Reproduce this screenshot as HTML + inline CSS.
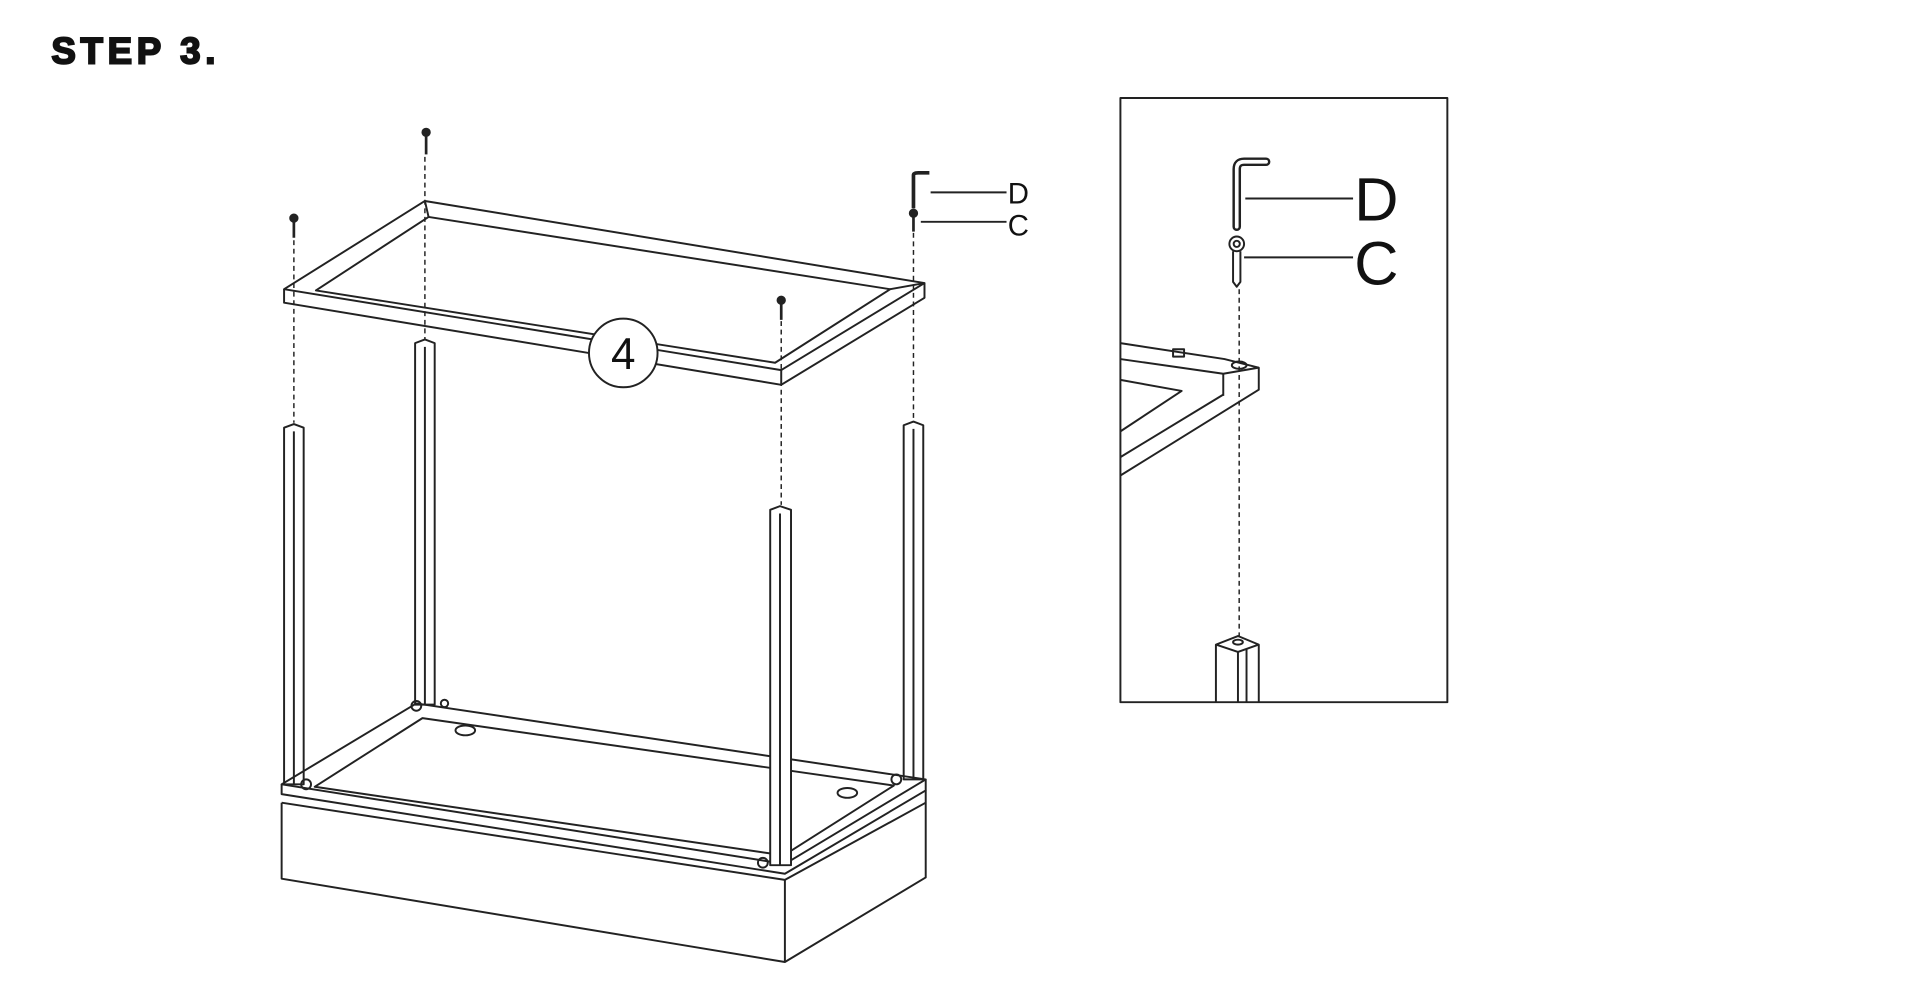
<!DOCTYPE html>
<html><head><style>
html,body{margin:0;padding:0;background:#fff;width:1920px;height:1000px;overflow:hidden}
svg{display:block}
</style></head><body>
<svg width="1920" height="1000" viewBox="0 0 1568 816" preserveAspectRatio="none" xmlns="http://www.w3.org/2000/svg">
<g fill="none" stroke="#222" stroke-width="1.6" stroke-linejoin="round">
<polygon points="232,236 347,164 755,231 638,302" fill="#fff"/>
<polyline points="232,236 232,247 638,314 755,243 755,231"/>
<line x1="638" y1="302" x2="638" y2="314"/>
<polygon points="258,237 350,177 727,236 633,296"/>
<line x1="347" y1="164" x2="350" y2="177"/>
<line x1="755" y1="231" x2="727" y2="236"/>
<polygon points="232,349 240,346 248,349 248,640 232,640" fill="#fff"/><line x1="240" y1="352" x2="240" y2="640"/>
<polygon points="339,280 347,277 355,280 355,575 339,575" fill="#fff"/><line x1="347" y1="283" x2="347" y2="575"/>
<polygon points="738,347 746,344 754,347 754,636 738,636" fill="#fff"/><line x1="746" y1="350" x2="746" y2="636"/>
<polyline points="230,655 230,717 641,785 756,716 756,645"/>
<line x1="641" y1="785" x2="641" y2="718"/>
<polyline points="230,655 641,718 756,655"/>
<polygon points="230,640 340,574 756,636 641,705"/>
<polyline points="230,640 230,648 641,713 756,645 756,636"/>
<polygon points="257,642 345,586 730,641 640,698"/>
<ellipse cx="380" cy="596" rx="8" ry="4"/><ellipse cx="692" cy="647" rx="8" ry="4"/>
<circle cx="250" cy="640" r="4"/><circle cx="340" cy="576" r="4"/><circle cx="363" cy="574" r="3"/><circle cx="732" cy="636" r="4"/><circle cx="623" cy="704" r="4"/>
<polygon points="629,416 637,413 646,416 646,706 629,706" fill="#fff"/><line x1="637" y1="419" x2="637" y2="706"/>
<g stroke-dasharray="4,3" stroke-width="1.2">
<line x1="240" y1="196" x2="240" y2="345"/><line x1="347" y1="128" x2="347" y2="277"/>
<line x1="638" y1="262" x2="638" y2="412"/><line x1="746" y1="190" x2="746" y2="343"/>
<line x1="1012" y1="236" x2="1012" y2="520"/>
</g>
<g stroke-width="2.2"><line x1="240" y1="180" x2="240" y2="194"/><line x1="348" y1="110" x2="348" y2="126"/><line x1="638" y1="246" x2="638" y2="261"/><line x1="746" y1="175" x2="746" y2="189"/></g>
<g fill="#222"><circle cx="240" cy="178" r="3"/><circle cx="348" cy="108" r="3"/><circle cx="638" cy="245" r="3"/><circle cx="746" cy="174" r="3"/></g>
<path d="M746,170 V143 Q746,141 750,141 H759" stroke-width="3"/>
<line x1="760" y1="157" x2="822" y2="157"/><line x1="752" y1="181" x2="822" y2="181"/>
<circle cx="509" cy="288" r="28" fill="#fff"/>
<rect x="915" y="80" width="267" height="493"/>
<path d="M1010,185 V138 Q1010,132 1016,132 H1034" stroke-width="7" stroke-linecap="round"/>
<path d="M1010,185 V138 Q1010,132 1016,132 H1034" stroke="#fff" stroke-width="3" stroke-linecap="round"/>
<line x1="1017" y1="162" x2="1105" y2="162"/>
<circle cx="1010" cy="199" r="6"/><circle cx="1010" cy="199" r="2.5"/>
<polyline points="1007,205 1007,230 1010,234 1013,230 1013,205"/>
<line x1="1016" y1="210" x2="1105" y2="210"/>
<polyline points="915,280 1000,293 1028,300 1028,318 915,388"/>
<polyline points="915,293 999,305 1028,300"/><line x1="999" y1="305" x2="999" y2="323"/>
<polyline points="915,310 965,319 915,352"/><polyline points="915,373 999,322"/>
<ellipse cx="1012" cy="298" rx="6" ry="3"/><rect x="958" y="285" width="9" height="6"/>
<polyline points="993,573 993,526 1011,519 1028,526 1028,573"/><polyline points="993,526 1011,532 1028,526"/>
<line x1="1011" y1="532" x2="1011" y2="573"/><line x1="1018" y1="530" x2="1018" y2="573"/>
<ellipse cx="1011" cy="524" rx="4" ry="2"/>
</g>
<g font-family="Liberation Sans, sans-serif" fill="#111">
<text x="42" y="52" font-size="30" font-weight="bold" stroke="#111" stroke-width="1.6" letter-spacing="3.8">STEP 3.</text>
<text x="509" y="301" font-size="36" text-anchor="middle">4</text>
<text x="823" y="166" font-size="24">D</text>
<text x="823" y="192" font-size="24">C</text>
<text x="1106" y="180" font-size="50">D</text>
<text x="1106" y="232" font-size="50">C</text>
</g>
</svg>
</body></html>
